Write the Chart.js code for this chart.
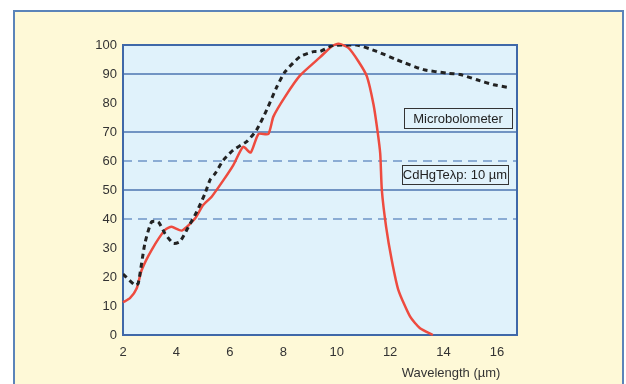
<!DOCTYPE html>
<html>
<head>
<meta charset="utf-8">
<script src="https://cdn.jsdelivr.net/npm/chart.js@4"></script>
<style>
  body { margin: 0; background: #ffffff; }
  #frame {
    position: absolute; left: 13px; top: 10px; width: 607px; height: 400px;
    background: #fef9d7; border: 2px solid #5b84b9;
  }
  #chart { position: absolute; left: 0; top: 0; }
</style>
</head>
<body>
<div id="frame"></div>
<canvas id="chart" width="626" height="384"></canvas>
<script>
// CdHgTe detector (red line)
const cdhgteX = [2.0, 2.26, 2.51, 2.7, 3.07, 3.57, 3.82, 4.2, 4.7, 5.0, 5.32, 5.76, 6.13, 6.5, 6.78, 7.07, 7.44, 7.63, 8.07, 8.63, 9.38, 9.82, 10.07, 10.44, 10.81, 11.13, 11.38, 11.53, 11.63, 11.69, 11.85, 12.06, 12.31, 12.75, 13.12, 13.6]
const cdhgteY = [11.3, 12.7, 16, 22.4, 29.3, 36.2, 37.3, 36, 40.2, 44.8, 47.7, 53.4, 58.6, 64.9, 62.9, 69.3, 69.3, 75.3, 82.2, 89.5, 95.8, 99.6, 100.4, 99, 94.4, 89.2, 79.4, 70.2, 62.5, 50, 37.3, 25.9, 15.5, 6.3, 2.3, 0]

// Microbolometer (black dashed line)
const microX = [2.0, 2.45, 2.57, 2.82, 3.07, 3.32, 3.57, 3.88, 4.13, 4.45, 4.76, 5.07, 5.26, 5.45, 5.76, 6.13, 6.63, 7.0, 7.38, 7.76, 8.07, 8.63, 9.13, 9.38, 9.88, 10.75, 11.5, 12.25, 13.25, 14.12, 14.62, 15.25, 15.87, 16.4]
const microY = [21, 17.2, 17.8, 31.6, 39, 39, 35, 31.6, 32.2, 37.3, 42.5, 48.8, 53.5, 55.7, 60.3, 63.8, 66.7, 70.7, 77.6, 85.6, 90.8, 96, 97.7, 97.8, 99.9, 100, 97.8, 94.9, 91.5, 90.3, 89.8, 88, 86.3, 85.4]

const solidLines = [50, 70, 90]
const dashedLines = [40, 60]
const xTitle = 'Wavelength (\u00b5m)'
const labelMicro = 'Microbolometer'
const labelCdhgte = 'CdHgTe\u03bbp: 10 \u00b5m'

const font = 'Liberation Sans, Arial, sans-serif'

function points(xs, ys) {
    return xs.map((x, i) => ({ x: x, y: ys[i] }))
}

const extras = {
    id: 'extras',
    beforeDatasetsDraw(chart) {
        const { ctx, chartArea: a, scales } = chart
        ctx.save()
        ctx.fillStyle = '#e0f2fb'
        ctx.fillRect(a.left, a.top, a.right - a.left, a.bottom - a.top)
        // dashed reference lines
        ctx.strokeStyle = '#6f95c8'
        ctx.lineWidth = 1.5
        ctx.setLineDash([9, 6])
        dashedLines.forEach(v => {
            const y = scales.y.getPixelForValue(v)
            ctx.beginPath()
            ctx.moveTo(a.left, y)
            ctx.lineTo(a.right, y)
            ctx.stroke()
        })
        ctx.setLineDash([])
        ctx.strokeStyle = '#4c74b1'
        ctx.lineWidth = 1.5
        solidLines.forEach(v => {
            const y = scales.y.getPixelForValue(v)
            ctx.beginPath()
            ctx.moveTo(a.left, y)
            ctx.lineTo(a.right, y)
            ctx.stroke()
        })
        ctx.strokeStyle = '#3f68a8'
        ctx.lineWidth = 2
        ctx.strokeRect(a.left, a.top, a.right - a.left, a.bottom - a.top)
        ctx.restore()
    },
    afterDraw(chart) {
        const { ctx, chartArea: a, scales } = chart
        ctx.save()
        ctx.font = '13px ' + font
        ctx.textBaseline = 'middle'
        ctx.textAlign = 'center'
        function box(text, x1, x2, y1, y2) {
            ctx.fillStyle = '#e0f2fb'
            ctx.fillRect(x1, y1, x2 - x1, y2 - y1)
            ctx.strokeStyle = '#333333'
            ctx.lineWidth = 1
            ctx.strokeRect(x1 + 0.5, y1 + 0.5, x2 - x1, y2 - y1)
            ctx.fillStyle = '#222222'
            ctx.fillText(text, (x1 + x2) / 2, (y1 + y2) / 2 + 1)
        }
        box(labelMicro, a.right - 113, a.right - 5, 108, 128)
        box(labelCdhgte, a.right - 115, a.right - 9, 165, 184)
        ctx.fillStyle = '#333333'
        ctx.fillText(xTitle, scales.x.getPixelForValue(14.28), 373)
        ctx.restore()
    }
}

new Chart(document.getElementById('chart').getContext('2d'), {
    type: 'line',
    data: {
        datasets: [
            {
                label: 'Microbolometer',
                data: points(microX, microY),
                borderColor: '#222222',
                borderWidth: 3,
                borderDash: [5, 4],
                pointRadius: 0,
                tension: 0.2,
                fill: false
            },
            {
                label: 'CdHgTe',
                data: points(cdhgteX, cdhgteY),
                borderColor: '#ee4b3f',
                borderWidth: 2.5,
                pointRadius: 0,
                tension: 0.2,
                fill: false,
                clip: false
            }
        ]
    },
    options: {
        responsive: false,
        animation: false,
        layout: { padding: { top: 45, right: 109, bottom: 0, left: 0 } },
        plugins: { legend: { display: false }, tooltip: { enabled: false } },
        scales: {
            x: {
                type: 'linear',
                min: 2,
                max: 16.75,
                grid: { display: false, drawTicks: false },
                border: { display: false },
                ticks: { stepSize: 2, includeBounds: false, padding: 10, color: '#333333', font: { family: font, size: 13 } },
                afterFit(scale) { scale.height = 49 }
            },
            y: {
                min: 0,
                max: 100,
                grid: { display: false, drawTicks: false },
                border: { display: false },
                ticks: { stepSize: 10, padding: 6, color: '#333333', font: { family: font, size: 13 } },
                afterFit(scale) { scale.width = 123 }
            }
        }
    },
    plugins: [extras]
})
</script>
</body>
</html>
